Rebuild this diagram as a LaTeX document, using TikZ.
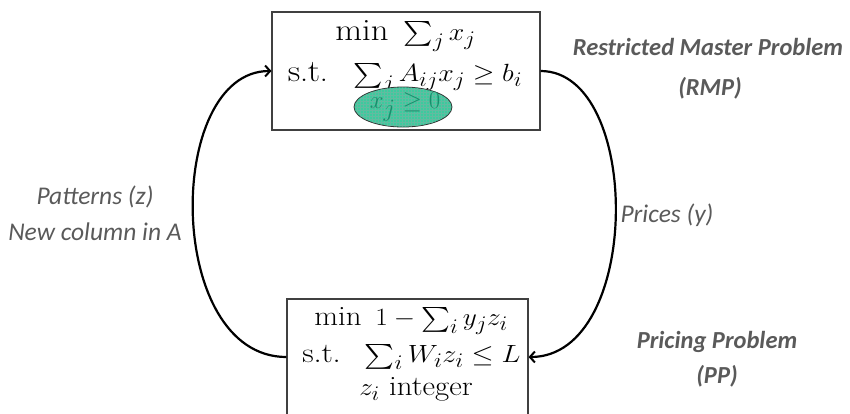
\documentclass[tikz,border=0pt]{standalone}
\usepackage{fontspec}
\usepackage{amsmath}
\usepackage{graphicx}
\newfontfamily\lab{Carlito}
\usetikzlibrary{arrows.meta,patterns,shapes.geometric}
\definecolor{labgray}{HTML}{5A5A5A}
\definecolor{boxgray}{HTML}{404040}
\definecolor{teal1}{HTML}{3CCB9E}
\definecolor{teal2}{HTML}{1F9E78}
\definecolor{teal3}{HTML}{178F6C}
\newcommand{\wideT}[1]{\scalebox{1.12}[1]{#1}}
\newcommand{\wideB}[1]{\scalebox{1.1}[1]{#1}}
\tikzset{
  probbox/.style={draw=boxgray,line width=1.1pt,rectangle,inner sep=0pt},
  mathtop/.style={inner sep=0pt,font=\fontsize{31}{36}\selectfont},
  mathbot/.style={inner sep=0pt,font=\fontsize{28}{33}\selectfont},
  lablight/.style={text=labgray,font=\lab\itshape\fontsize{25.5}{30}\selectfont,align=center,inner sep=0pt},
  labbold/.style={text=labgray,font=\lab\bfseries\itshape\fontsize{24.5}{29}\selectfont,align=center,inner sep=0pt},
  arr/.style={line width=2.2pt,-{Straight Barb[length=5pt,width=11pt,line width=2pt]}},
}
\begin{document}
\begin{tikzpicture}[x=1pt,y=-1pt]
\useasboundingbox (0,0) rectangle (850,413);
\clip (0,0) rectangle (850,413);
% boxes
\node[probbox,minimum width=268pt,minimum height=118pt] (rmp) at (406,71) {};
\node[probbox,minimum width=241pt,minimum height=116pt] (pp) at (407.5,357) {};
% RMP text
\node[mathtop] (r1) at (405.5,36) {\wideT{$\min\ \sum_j x_j$}};
\node[mathtop] (r2) at (405,78) {\wideT{$\mathrm{s.t.}\ \ \sum_j A_{ij}x_j \geq b_i$}};
\node[ellipse,draw=black!80,line width=0.8pt,fill=teal1,minimum width=98pt,minimum height=40pt,inner sep=0pt] (ell) at (403,107) {};
\fill[pattern=grid,pattern color=teal2!70] (ell.center) ellipse [x radius=48pt,y radius=19.5pt];
\node[inner sep=0pt,font=\fontsize{40}{44}\selectfont,text=teal3] (r3) at (405,107) {$x_j \geq 0$};
% PP text
\node[mathbot] (p1) at (411,321) {\wideB{$\min\ 1 - \sum_i y_j z_i$}};
\node[mathbot] (p2) at (411.5,357) {\scalebox{1.14}[1]{$\mathrm{s.t.}\ \ \sum_i W_i z_i \leq L$}};
\node[mathbot] (p3) at (416,389) {\wideB{$z_i\ \text{integer}$}};
% arrows
\draw[arr] (pp.west) .. controls +(-122,0) and +(-107,0) .. (rmp.west);
\draw[arr] (rmp.east) .. controls +(102,0) and +(114,0) .. (pp.east);
% labels
\node[lablight] (pat) at (95,197) {Patterns (z)};
\node[lablight] (newc) at (95,232) {New column in A};
\node[lablight] (pri) at (667,215) {Prices (y)};
\node[labbold] (rmpl) at (708,47) {Restricted Master Problem};
\node[labbold] (rmpa) at (710,88) {(RMP)};
\node[labbold] (ppl) at (717,342) {Pricing Problem};
\node[labbold] (ppa) at (717,376) {(PP)};
\end{tikzpicture}
\end{document}
